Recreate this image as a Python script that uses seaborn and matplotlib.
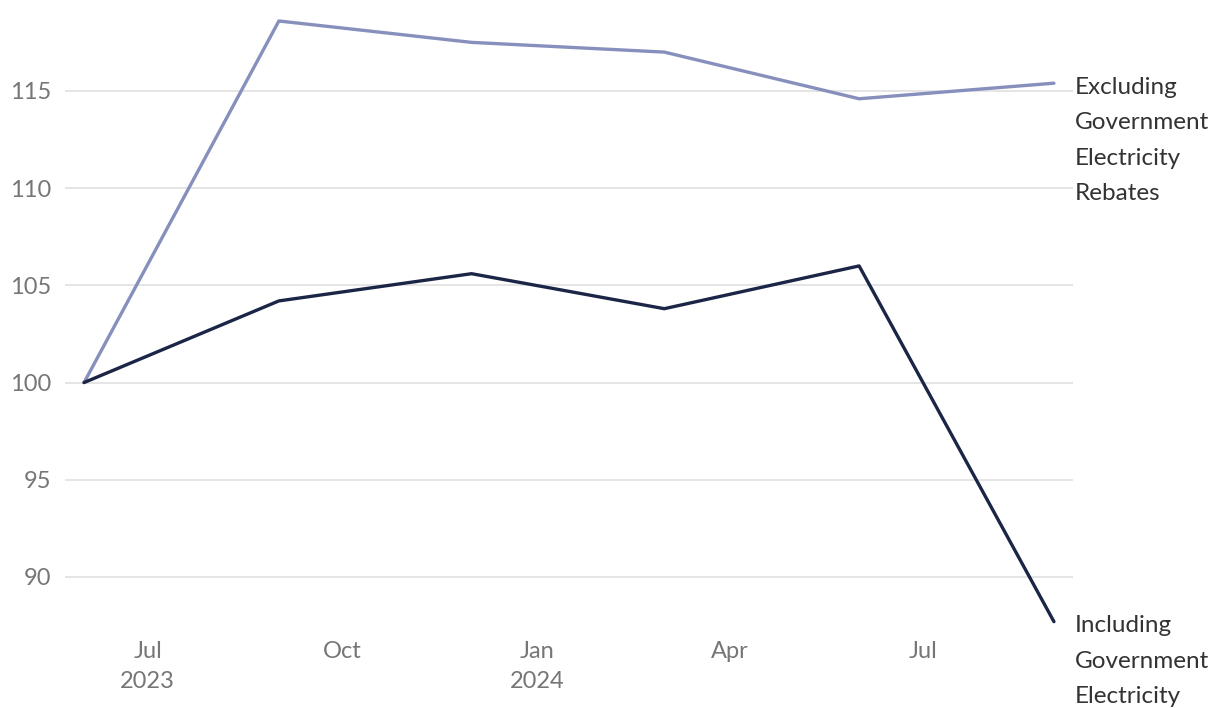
import matplotlib
matplotlib.use("Agg")
import matplotlib.pyplot as plt
import seaborn as sns
import pandas as pd

dates = ["2023-06-01", "2023-09-01", "2023-12-01", "2024-03-01", "2024-06-01", "2024-09-01"]
excluding = [100.0, 118.6, 117.5, 117.0, 114.6, 115.4]
including = [100.0, 104.2, 105.6, 103.8, 106.0, 87.7]
series_names = ["Excluding\nGovernment\nElectricity\nRebates", "Including\nGovernment\nElectricity\nRebates"]
colors = ["#8790BC", "#1B2546"]
yticks = [90, 95, 100, 105, 110, 115]
xtick_dates = ["2023-07-01", "2023-10-01", "2024-01-01", "2024-04-01", "2024-07-01"]
xtick_labels = ["Jul\n2023", "Oct", "Jan\n2024", "Apr", "Jul"]

sns.set_theme(style="white")
plt.rcParams['font.family'] = ['Lato', 'DejaVu Sans']

df = pd.DataFrame({
    "date": pd.to_datetime(dates * 2),
    "value": excluding + including,
    "series": [series_names[0]] * len(dates) + [series_names[1]] * len(dates),
})

fig = plt.figure(figsize=(12.2, 7.08), dpi=100)
ax = fig.add_axes([65 / 1220, 1 - 630 / 708, (1073 - 65) / 1220, 630 / 708])

sns.lineplot(data=df, x="date", y="value", hue="series", palette=colors,
             linewidth=2.4, ax=ax, legend=False)
for line in ax.lines:
    line.set_clip_on(False)

ax.set_xlim(pd.Timestamp("2023-05-23"), pd.Timestamp("2024-09-10"))
ax.set_ylim(87.27, 119.68)
ax.set_yticks(yticks)
ax.set_yticklabels([str(v) for v in yticks])
ax.set_xticks(pd.to_datetime(xtick_dates))
ax.set_xticklabels(xtick_labels)
ax.grid(axis="y", color="#E0E0E0", linewidth=1.2)
ax.set_axisbelow(True)
for s in ax.spines.values():
    s.set_visible(False)
ax.tick_params(axis="both", length=0, labelsize=17, colors="#767676")
ax.tick_params(axis="y", pad=10)
ax.tick_params(axis="x", pad=8)
for lbl in ax.get_xticklabels():
    lbl.set_linespacing(1.55)
ax.set_xlabel("")
ax.set_ylabel("")

last_date = pd.to_datetime(dates[-1])
for name, vals in zip(series_names, [excluding, including]):
    ax.annotate(name, xy=(last_date, vals[-1]), xytext=(15, 4.5), textcoords="offset points",
                ha="left", va="top", fontsize=17.5, color="#333333", linespacing=1.84,
                annotation_clip=False)

fig.savefig("out.png", dpi=100)
